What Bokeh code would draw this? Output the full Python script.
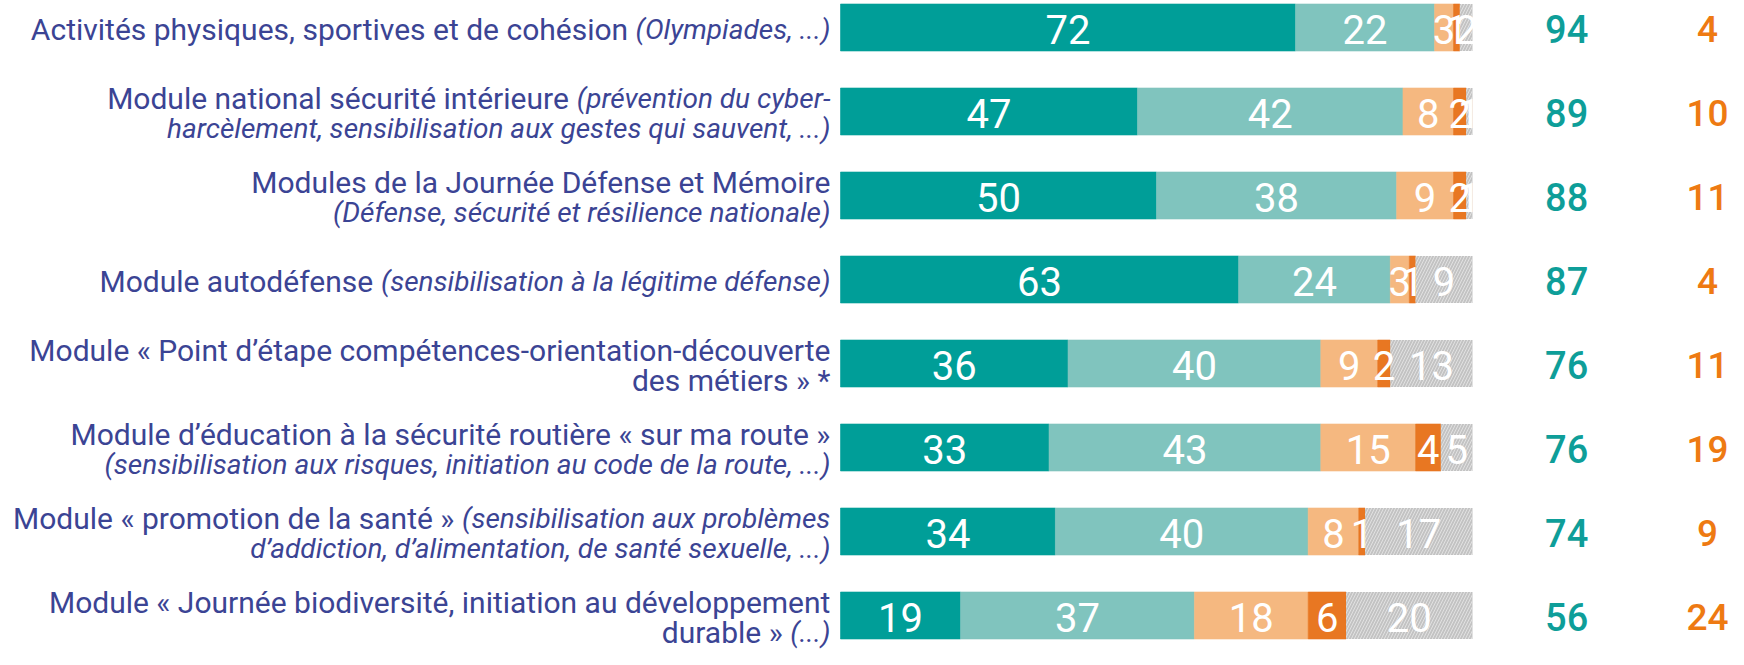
import os
import struct
from bokeh.plotting import figure
from bokeh.models import ColumnDataSource, Range1d
from bokeh.core.properties import value
from bokeh.embed import file_html
from bokeh.resources import INLINE

# ---------------- data ----------------
label_lines = [
    [[("Activités physiques, sportives et de cohésion", "n"), ("(Olympiades, ...)", "i")]],
    [[("Module national sécurité intérieure", "n"), ("(prévention du cyber-", "i")],
     [("harcèlement, sensibilisation aux gestes qui sauvent, ...)", "i")]],
    [[("Modules de la Journée Défense et Mémoire", "n")],
     [("(Défense, sécurité et résilience nationale)", "i")]],
    [[("Module autodéfense", "n"), ("(sensibilisation à la légitime défense)", "i")]],
    [[("Module « Point d’étape compétences-orientation-découverte", "n")],
     [("des métiers » *", "n")]],
    [[("Module d’éducation à la sécurité routière « sur ma route »", "n")],
     [("(sensibilisation aux risques, initiation au code de la route, ...)", "i")]],
    [[("Module « promotion de la santé »", "n"), ("(sensibilisation aux problèmes", "i")],
     [("d’addiction, d’alimentation, de santé sexuelle, ...)", "i")]],
    [[("Module « Journée biodiversité, initiation au développement", "n")],
     [("durable »", "n"), ("(...)", "i")]],
]

s_very = [72, 47, 50, 63, 36, 33, 34, 19]
s_rather = [22, 42, 38, 24, 40, 43, 40, 37]
s_rather_not = [3, 8, 9, 3, 9, 15, 8, 18]
s_not_at_all = [1, 2, 2, 1, 2, 4, 1, 6]
s_no_answer = [2, 1, 1, 9, 13, 5, 17, 20]
total_positive = [94, 89, 88, 87, 76, 76, 74, 56]
total_negative = [4, 10, 11, 4, 11, 19, 9, 24]

series = [s_very, s_rather, s_rather_not, s_not_at_all, s_no_answer]
colors = ["#009E98", "#80C4BE", "#F5B880", "#E87722", "#C3C3C3"]

# ---------------- font metrics ----------------
FONT = "Roboto"
FONT_DIRS = ["/usr/share/fonts", "/usr/local/share/fonts",
             os.path.expanduser("~/.fonts"), os.path.expanduser("~/.local/share/fonts")]


def find_font(exact, prefix, want_italic):
    found = {}
    for d in FONT_DIRS:
        if not os.path.isdir(d):
            continue
        for root, _, files in os.walk(d):
            for f in files:
                found.setdefault(f.lower(), os.path.join(root, f))
    for e in exact:
        if e in found:
            return found[e]
    for name, path in sorted(found.items()):
        if not name.startswith(prefix) or not name.endswith((".ttf", ".otf")):
            continue
        bad = ["condensed", "mono", "slab", "flex", "serif", "black", "bold", "light", "thin", "medium"]
        if any(b in name for b in bad):
            continue
        if ("italic" in name) == want_italic:
            return path
    return None


def load_metrics(path):
    try:
        d = open(path, "rb").read()
        off0 = struct.unpack(">I", d[12:16])[0] if d[:4] == b"ttcf" else 0
        num = struct.unpack(">H", d[off0 + 4:off0 + 6])[0]
        tabs = {}
        for i in range(num):
            rec = off0 + 12 + 16 * i
            tag = d[rec:rec + 4].decode("latin1")
            tabs[tag] = struct.unpack(">I", d[rec + 8:rec + 12])[0]
        upem = struct.unpack(">H", d[tabs["head"] + 18:tabs["head"] + 20])[0]
        nhm = struct.unpack(">H", d[tabs["hhea"] + 34:tabs["hhea"] + 36])[0]
        hm = tabs["hmtx"]
        adv = [struct.unpack(">H", d[hm + 4 * i:hm + 4 * i + 2])[0] for i in range(nhm)]
        c = tabs["cmap"]
        n = struct.unpack(">H", d[c + 2:c + 4])[0]
        cmap = {}
        subs = []
        for i in range(n):
            pid, eid, so = struct.unpack(">HHI", d[c + 4 + 8 * i:c + 12 + 8 * i])
            fmt = struct.unpack(">H", d[c + so:c + so + 2])[0]
            subs.append((fmt, c + so))
        subs.sort(key=lambda t: {12: 0, 4: 1}.get(t[0], 9))
        fmt, s = subs[0]
        if fmt == 12:
            ng = struct.unpack(">I", d[s + 12:s + 16])[0]
            for k in range(ng):
                a, b, g = struct.unpack(">III", d[s + 16 + 12 * k:s + 28 + 12 * k])
                if a > 0x2FFFF:
                    continue
                for ch in range(a, min(b, 0x2FFFF) + 1):
                    cmap[ch] = g + ch - a
        elif fmt == 4:
            seg2 = struct.unpack(">H", d[s + 6:s + 8])[0]
            ends = s + 14
            starts = s + 16 + seg2
            deltas = starts + seg2
            ros = deltas + seg2
            for k in range(seg2 // 2):
                end = struct.unpack(">H", d[ends + 2 * k:ends + 2 * k + 2])[0]
                start = struct.unpack(">H", d[starts + 2 * k:starts + 2 * k + 2])[0]
                delta = struct.unpack(">h", d[deltas + 2 * k:deltas + 2 * k + 2])[0]
                ro = struct.unpack(">H", d[ros + 2 * k:ros + 2 * k + 2])[0]
                for ch in range(start, end + 1):
                    if ch == 0xFFFF:
                        continue
                    if ro == 0:
                        g = (ch + delta) & 0xFFFF
                    else:
                        addr = ros + 2 * k + ro + 2 * (ch - start)
                        g = struct.unpack(">H", d[addr:addr + 2])[0]
                        if g:
                            g = (g + delta) & 0xFFFF
                    cmap[ch] = g
        return upem, adv, cmap
    except Exception:
        return None


reg_path = find_font(["roboto-regular.ttf"], "roboto", False)
ita_path = find_font(["roboto-italic.ttf"], "roboto", True)
metrics = {"n": load_metrics(reg_path) if reg_path else None,
           "i": load_metrics(ita_path) if ita_path else None}


def text_width(txt, style, size):
    m = metrics.get(style)
    if not m:
        return 0.5 * size * len(txt)
    upem, adv, cmap = m
    tot = 0
    for ch in txt:
        g = cmap.get(ord(ch), 0)
        tot += adv[min(g, len(adv) - 1)]
    return tot / upem * size


# ---------------- layout ----------------
W, H = 1728, 649
BAR_LEFT_PX = 840
PX_PER_UNIT = 6.32
ROW0_PX = 27
ROW_STEP_PX = 84.0
SIZE = {"n": 30, "i": 28}
LINE_GAP = 15
LABEL_X = -1.6
POS_X = 114.9
NEG_X = 137.2

x_range = Range1d(-BAR_LEFT_PX / PX_PER_UNIT, (W - BAR_LEFT_PX) / PX_PER_UNIT)
y_range = Range1d((H - ROW0_PX) / ROW_STEP_PX, -ROW0_PX / ROW_STEP_PX)

p = figure(width=W, height=H, x_range=x_range, y_range=y_range,
           output_backend="svg", toolbar_location=None, min_border=0,
           background_fill_color="white", border_fill_color="white")
p.axis.visible = False
p.grid.visible = False
p.outline_line_color = None

rows = list(range(len(s_very)))
BAR_H = 47 / ROW_STEP_PX

# stacked bars
left = [0] * len(rows)
lab = dict(x=[], y=[], text=[])
for k, (vals, col) in enumerate(zip(series, colors)):
    right = [l + v for l, v in zip(left, vals)]
    src = ColumnDataSource(dict(y=rows, left=left, right=right))
    if k == 4:
        p.hbar(y="y", left="left", right="right", height=BAR_H, source=src,
               fill_color=col, line_color=None, hatch_pattern="/",
               hatch_color="#E4E4E4", hatch_alpha=0.9, hatch_scale=6, hatch_weight=1)
    else:
        p.hbar(y="y", left="left", right="right", height=BAR_H, source=src,
               fill_color=col, line_color=col, line_width=0.6)
    for r, l, v in zip(rows, left, vals):
        lab["x"].append(l + v / 2)
        lab["y"].append(r)
        lab["text"].append(str(v))
    left = right

p.text(x="x", y="y", text="text", source=ColumnDataSource(lab),
       text_color="white", text_font=value(FONT), text_font_size="40px",
       text_align="center", text_baseline="middle", y_offset=2)

# totals
p.text(x=[POS_X] * len(rows), y=rows, text=[str(v) for v in total_positive],
       text_color="#0E9E99", text_font=value("Roboto Medium"), text_font_size="38px",
       text_align="center", text_baseline="middle", y_offset=1)
p.text(x=[NEG_X] * len(rows), y=rows, text=[str(v) for v in total_negative],
       text_color="#EE7A12", text_font=value("Roboto Medium"), text_font_size="37px",
       text_align="center", text_baseline="middle", y_offset=1)

# category labels (mixed normal / italic parts, right-aligned)
parts = {"n": dict(x=[], y=[], text=[], xo=[], yo=[]),
         "i": dict(x=[], y=[], text=[], xo=[], yo=[])}
space = text_width(" ", "n", SIZE["n"])
for r, lines in zip(rows, label_lines):
    offs = [2] if len(lines) == 1 else [-LINE_GAP + 2, LINE_GAP + 2]
    for line, yo in zip(lines, offs):
        cur = 0.0
        for txt, st in reversed(line):
            parts[st]["x"].append(LABEL_X)
            parts[st]["y"].append(r)
            parts[st]["text"].append(txt)
            parts[st]["xo"].append(-cur)
            parts[st]["yo"].append(yo)
            cur += text_width(txt, st, SIZE[st]) + space

for st, d in parts.items():
    p.text(x="x", y="y", text="text", x_offset="xo", y_offset="yo",
           source=ColumnDataSource(d), text_color="#3B4494",
           text_font=value(FONT), text_font_size=f"{SIZE[st]}px",
           text_font_style="italic" if st == "i" else "normal",
           text_align="right", text_baseline="middle")

open("out.html", "w").write(file_html(p, INLINE))
